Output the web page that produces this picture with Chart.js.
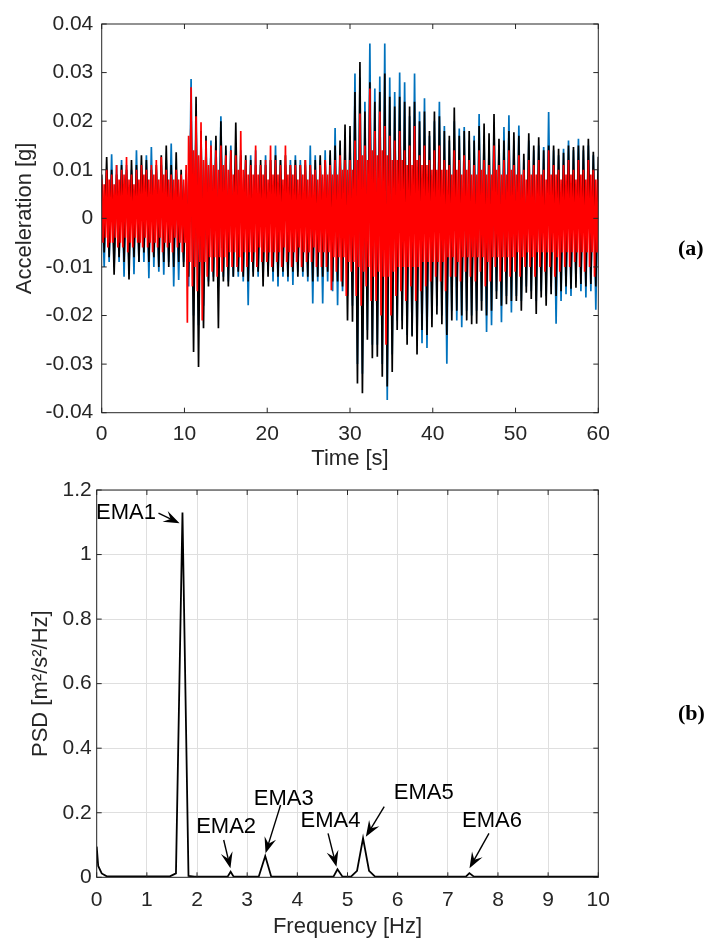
<!DOCTYPE html>
<html>
<head>
<meta charset="utf-8">
<script src="https://cdn.jsdelivr.net/npm/chart.js"></script>
<style>
  html, body { margin: 0; padding: 0; background: #ffffff; }
  #page { position: relative; width: 705px; height: 940px; overflow: hidden; }
  canvas { position: absolute; left: 0; }
  #cTop { top: 0; }
  #cBot { top: 470px; }
  .panel { position: absolute; left: 678px; font-family: "Liberation Serif", "DejaVu Serif", serif;
           font-weight: bold; font-size: 22px; line-height: 22px; color: #000; }
</style>
</head>
<body>
<div id="page">
  <canvas id="cTop" width="705" height="480"></canvas>
  <canvas id="cBot" width="705" height="470"></canvas>
  <div class="panel" style="top:237px">(a)</div>
  <div class="panel" style="top:702px">(b)</div>
</div>
<script>
// ---------- (a) acceleration records, values in milli-g ----------
// red record: one value every 0.15 s
const accelRedMg = [
  8,-5,7,-4, 10,-6,8,-5, 9,-5,7,-4, 11,-6,8,-5, 10,-6,9,-4,
  12.6,-7,8,-5, 9,-6,7,-4, 10,-5,8,-5, 11,-6,9,-4, 10,-6,8,-5,
  11,-7,9,-5, 12,-6,8,-4, 12.6,-7,9,-5, 10,-6,8,-5, 9,-7,8,-4,
  10,-6,8,-5, 9,-7,8,-5, 11,-21.5,17,-9, 27,-14,14,-10, 21,-15,13,-9,
  19.8,-21,12,-9, 16,-12,11,-8, 15,-11,11,-8, 14,-12,10,-8, 15,-11,11,-8,
  13,-10,10,-7, 14,-10,9,-7, 13,-10,10,-8, 18,-11,10,-7, 12,-10,9,-7,
  11,-9,9,-7, 15,-10,9,-6, 11,-9,9,-7, 12,-9,8,-7, 15,-10,9,-7,
  12,-9,9,-7, 11,-10,8,-6, 15,-9,9,-7, 11,-10,9,-7, 11,-9,8,-6,
  11,-10,9,-7, 12,-9,8,-7, 11,-9,9,-6, 10,-10,8,-7, 11,-10,9,-7,
  12,-10,9,-7, 11,-14.8,9,-8, 12,-11,9,-8, 13,-13,10,-8, 12,-16,10,-9,
  12,-11,10,-9, 16,-16,12,-10, 21.6,-18,13,-11, 15,-14,12,-10, 26.7,-17,14,-12,
  18,-17,13,-11, 22,-20,14,-12, 19,-26,13,-12, 17,-20,12,-11, 16,-16,12,-10,
  18,-15,12,-10, 14,-17,11,-10, 15,-14,11,-10, 19,-17,12,-10, 13,-15,11,-9,
  15,-14,11,-9, 12,-13,10,-9, 14,-12,10,-9, 15,-13,10,-9, 12,-15,10,-8,
  11,-12,9,-8, 14,-12,10,-9, 12,-13,9,-8, 13,-11,10,-8, 12,-12,9,-8,
  11,-13,9,-8, 14,-11,10,-8, 12,-14,9,-9, 11,-13,9,-8, 15,-10,10,-8,
  11,-13,9,-8, 12,-11,9,-8, 14,-12,10,-8, 11,-11,9,-7, 13,-12,9,-8,
  10,-10,8,-7, 12,-10,9,-8, 11,-12,9,-7, 12,-10,9,-7, 10,-11,8,-7,
  14,-10,9,-7, 11,-12,9,-8, 10,-11,8,-7, 11,-10,9,-7, 12,-10,9,-7,
  10,-9,8,-7, 12,-10,9,-7, 10,-11,8,-7, 12,-10,9,-7, 10,-12,8,-7,
  8
];
// black and blue records: one value every 0.3 s
const accelBlackMg = [
  9,-7,12.6,-8,10,-11.6,9,-8,11,-9,
  10,-12.6,12,-8,11,-9,13,-7,12,-9,
  10,-8,11,-10,13,-9,15,-10,11,-10,
  13.6,-9,10,-10,9,-12,22,-27.5,25,-30.6,
  18,-22.6,17,-14,14,-13,17,-22.6,20,-13,
  15,-14,14,-12,19.7,-11,13,-12,13,-13,
  12,-12,11,-11,12,-14,11,-12,12,-11,
  13,-12,12,-11,13,-12,11,-11,12,-12,
  11,-11,12,-12,11,-13,12,-12,13,-12,
  12,-11,14,-13,15,-13,16,-14,19.3,-21,
  19,-21.3,26,-34,32.2,-36,22,-25,28,-28.8,
  24,-28.5,26,-32.6,29.8,-34.6,25,-31.6,23,-23,
  25,-22.8,24,-26,23,-24.3,24,-28,20,-23,
  22,-24,18,-22.4,22,-19.8,21,-21.8,18,-24,
  17,-21,22.8,-19,17,-20,18,-21,18,-21.8,
  16,-21.7,19,-19,19.5,-20,17.5,-19,21.5,-16.6,
  16.4,-18,16,-17.7,18,-17,17.7,-17,17,-19,
  13.3,-15.3,17.5,-16.6,15,-19.7,16.7,-16.3,14,-18,
  15,-15.6,15,-16,14.3,-15,13.5,-14,15,-14.5,
  14.7,-14.3,15,-13.5,15,-14,16.4,-13.5,13.7,-14,
  12.7
];
const accelBlueMg = [
  7,-10,10,-9,13.2,-10,11,-9,12,-12,
  11,-10,10,-11.5,14,-9,11,-9,13,-12.3,
  14.7,-10,10,-11,11,-11.6,12,-9,15.4,-14,
  10,-12.7,9,-9,10,-14,28.7,-20,20,-22,
  17,-18,15,-13,16,-12,16,-14,21,-12,
  14,-13,15,-12,14,-12,14,-13,12,-17.9,
  13,-11,14,-12,11,-12,13,-11,12,-13,
  15,-14,12,-12,11,-13,12,-13.7,13,-11,
  12,-12,11,-13,15,-17.5,13,-13,12,-17.5,
  14,-13,13,-15,18.6,-17.9,14,-15,15,-16,
  16,-18,29.8,-30,29,-32,24,-23,36,-26,
  26.7,-26,29.2,-30,36,-37.4,29,-28,26,-21,
  30,-21,28,-24,21,-24,29.8,-25,22,-25.7,
  24.7,-26.7,17,-20,20,-18,24,-20,19,-29.9,
  16,-19,20,-21,18.5,-22.4,18.8,-19,16,-20,
  17,-19,21.5,-17,17,-23.4,16,-22,19,-15,
  15,-21.4,18.8,-16,21.2,-19.4,16,-16,19.1,-17,
  12,-14,16,-15,14,-17,15,-15,14.7,-16,
  21.9,-14,14,-21.7,13,-17,14.3,-15.6,16,-16,
  14,-13,16.4,-15,14,-16.3,15,-15,13,-18.8,
  10
];
const redStepS = 0.15;
const blackBlueStepS = 0.3;
const timeTicks = [0, 10, 20, 30, 40, 50, 60];
const accelTicks = [-0.04, -0.03, -0.02, -0.01, 0, 0.01, 0.02, 0.03, 0.04];

// ---------- (b) power spectral density ----------
const psdFreqHz = [0, 0.03, 0.1, 0.2, 1.46, 1.58, 1.71, 1.83, 1.95, 2.61, 2.67, 2.73,
  3.23, 3.36, 3.48, 4.72, 4.80, 4.90, 5.07, 5.19, 5.31, 5.43, 5.55, 7.36, 7.43, 7.52, 10];
const psdValue = [0.095, 0.035, 0.012, 0.003, 0.003, 0.012, 1.13, 0.004, 0.002, 0.002, 0.017, 0.002,
  0.002, 0.066, 0.002, 0.002, 0.025, 0.002, 0.002, 0.02, 0.121, 0.02, 0.002, 0.002, 0.013, 0.002, 0.002];
const freqTicks = [0, 1, 2, 3, 4, 5, 6, 7, 8, 9, 10];
const psdTicks = [0, 0.2, 0.4, 0.6, 0.8, 1, 1.2];

// peak labels (data coordinates) and their arrows (tail -> tip)
const emaLabels = ['EMA1', 'EMA2', 'EMA3', 'EMA4', 'EMA5', 'EMA6'];
const emaTextHz = [0.584, 2.58, 3.73, 4.66, 6.52, 7.88];
const emaTextPsd = [1.129, 0.157, 0.244, 0.175, 0.261, 0.175];
const arrowTailHz = [1.232, 2.532, 3.666, 4.612, 5.732, 7.82];
const arrowTailPsd = [1.128, 0.1156, 0.224, 0.136, 0.2187, 0.136];
const arrowTipHz = [1.652, 2.666, 3.366, 4.78, 5.366, 7.432];
const arrowTipPsd = [1.097, 0.0279, 0.0744, 0.0328, 0.1258, 0.0279];

// ---------- helpers ----------
const FONT = '"Liberation Sans", Arial, Helvetica, sans-serif';
const TXT = '#262626';
const sampleTimes = (n, step) => Array.from({ length: n }, (_, i) => Math.round(i * step * 100) / 100);
const timeRedS = sampleTimes(accelRedMg.length, redStepS);
const timeBlackBlueS = sampleTimes(accelBlackMg.length, blackBlueStepS);
const toXY = (xs, ys, k) => ys.map((y, i) => ({ x: xs[i], y: y * k }));

const matlabAxes = {
  id: 'matlabAxes',
  afterDatasetsDraw(chart) {
    const { ctx, chartArea: a, scales: { x, y } } = chart;
    ctx.save();
    ctx.strokeStyle = TXT;
    ctx.lineWidth = 1;
    ctx.strokeRect(a.left, a.top, a.right - a.left, a.bottom - a.top);
    const tl = 5;
    ctx.beginPath();
    x.ticks.forEach(t => {
      const px = x.getPixelForValue(t.value);
      ctx.moveTo(px, a.bottom); ctx.lineTo(px, a.bottom - tl);
      ctx.moveTo(px, a.top); ctx.lineTo(px, a.top + tl);
    });
    y.ticks.forEach(t => {
      const py = y.getPixelForValue(t.value);
      ctx.moveTo(a.left, py); ctx.lineTo(a.left + tl, py);
      ctx.moveTo(a.right, py); ctx.lineTo(a.right - tl, py);
    });
    ctx.stroke();
    ctx.restore();
  }
};

function drawArrow(ctx, x0, y0, x1, y1) {
  const ang = Math.atan2(y1 - y0, x1 - x0);
  const c = Math.cos(ang), s = Math.sin(ang);
  const L = 16, W = 6;
  ctx.beginPath();
  ctx.moveTo(x0, y0);
  ctx.lineTo(x1 - c * L * 0.6, y1 - s * L * 0.6);
  ctx.stroke();
  const bx = x1 - c * L, by = y1 - s * L;
  const mx = x1 - c * L * 0.62, my = y1 - s * L * 0.62;
  ctx.beginPath();
  ctx.moveTo(x1, y1);
  ctx.lineTo(bx - s * W, by + c * W);
  ctx.lineTo(mx, my);
  ctx.lineTo(bx + s * W, by - c * W);
  ctx.closePath();
  ctx.fill();
}

const emaAnnotations = {
  id: 'emaAnnotations',
  afterDraw(chart) {
    const { ctx, scales: { x, y } } = chart;
    ctx.save();
    ctx.fillStyle = '#000';
    ctx.strokeStyle = '#000';
    ctx.lineWidth = 1.4;
    ctx.font = '22px ' + FONT;
    ctx.textAlign = 'center';
    ctx.textBaseline = 'middle';
    emaLabels.forEach((lab, i) => {
      ctx.fillText(lab, x.getPixelForValue(emaTextHz[i]), y.getPixelForValue(emaTextPsd[i]));
      drawArrow(ctx,
        x.getPixelForValue(arrowTailHz[i]), y.getPixelForValue(arrowTailPsd[i]),
        x.getPixelForValue(arrowTipHz[i]), y.getPixelForValue(arrowTipPsd[i]));
    });
    ctx.restore();
  }
};

const tickFont = { family: FONT, size: 21 };
const titleFont = { family: FONT, size: 22 };

// ---------- chart (a) ----------
new Chart(document.getElementById('cTop'), {
  type: 'line',
  data: {
    datasets: [
      { label: 'red', data: toXY(timeRedS, accelRedMg, 0.001), borderColor: '#FF0000', borderWidth: 1.7 },
      { label: 'black', data: toXY(timeBlackBlueS, accelBlackMg, 0.001), borderColor: '#000000', borderWidth: 1.7 },
      { label: 'blue', data: toXY(timeBlackBlueS, accelBlueMg, 0.001), borderColor: '#0072BD', borderWidth: 1.7 }
    ]
  },
  options: {
    responsive: false,
    animation: false,
    events: [],
    elements: { point: { radius: 0 }, line: { tension: 0, fill: false } },
    plugins: { legend: { display: false }, tooltip: { enabled: false } },
    layout: { padding: { left: 0, top: 24, right: 106.7, bottom: 0 } },
    scales: {
      x: {
        type: 'linear', min: 0, max: 60,
        grid: { display: false, drawTicks: false },
        border: { display: false },
        afterBuildTicks: s => { s.ticks = timeTicks.map(v => ({ value: v })); },
        ticks: { font: tickFont, color: TXT, padding: 8.7, maxRotation: 0, autoSkip: false,
                 callback: v => String(v) },
        title: { display: true, text: 'Time [s]', font: titleFont, color: TXT, padding: { top: 0, bottom: 7.8 } },
        afterFit: s => { s.height = 67.3; }
      },
      y: {
        type: 'linear', min: -0.04, max: 0.04,
        grid: { display: false, drawTicks: false },
        border: { display: false },
        afterBuildTicks: s => { s.ticks = accelTicks.map(v => ({ value: v })); },
        ticks: { font: tickFont, color: TXT, padding: 8.4, autoSkip: false,
                 callback: v => { const r = Math.round(v * 100) / 100; return r === 0 ? '0' : r.toFixed(2); } },
        title: { display: true, text: 'Acceleration [g]', font: titleFont, color: TXT, padding: { top: 11.8, bottom: 0 } },
        afterFit: s => { s.width = 101.7; }
      }
    }
  },
  plugins: [matlabAxes]
});

// ---------- chart (b) ----------
new Chart(document.getElementById('cBot'), {
  type: 'line',
  data: {
    datasets: [
      { label: 'PSD', data: toXY(psdFreqHz, psdValue, 1), borderColor: '#000000', borderWidth: 1.8 }
    ]
  },
  options: {
    responsive: false,
    animation: false,
    events: [],
    elements: { point: { radius: 0 }, line: { tension: 0, fill: false } },
    plugins: { legend: { display: false }, tooltip: { enabled: false } },
    layout: { padding: { left: 0, top: 20, right: 106.7, bottom: 0 } },
    scales: {
      x: {
        type: 'linear', min: 0, max: 10,
        grid: { display: true, drawTicks: false, color: '#dfdfdf', lineWidth: 1 },
        border: { display: false },
        afterBuildTicks: s => { s.ticks = freqTicks.map(v => ({ value: v })); },
        ticks: { font: tickFont, color: TXT, padding: 10.1, maxRotation: 0, autoSkip: false,
                 callback: v => String(v) },
        title: { display: true, text: 'Frequency [Hz]', font: titleFont, color: TXT, padding: { top: 0, bottom: 0 } },
        afterFit: s => { s.height = 62.7; }
      },
      y: {
        type: 'linear', min: 0, max: 1.2,
        grid: { display: true, drawTicks: false, color: '#dfdfdf', lineWidth: 1 },
        border: { display: false },
        afterBuildTicks: s => { s.ticks = psdTicks.map(v => ({ value: v })); },
        ticks: { font: tickFont, color: TXT, padding: 5, autoSkip: false,
                 callback: v => { const r = Math.round(v * 10) / 10; return Number.isInteger(r) ? String(r) : r.toFixed(1); } },
        title: { display: true, text: 'PSD [m²/s²/Hz]', font: titleFont, color: TXT, padding: { top: 27.8, bottom: 0 } },
        afterFit: s => { s.width = 96.7; }
      }
    }
  },
  plugins: [matlabAxes, emaAnnotations]
});
</script>
</body>
</html>
